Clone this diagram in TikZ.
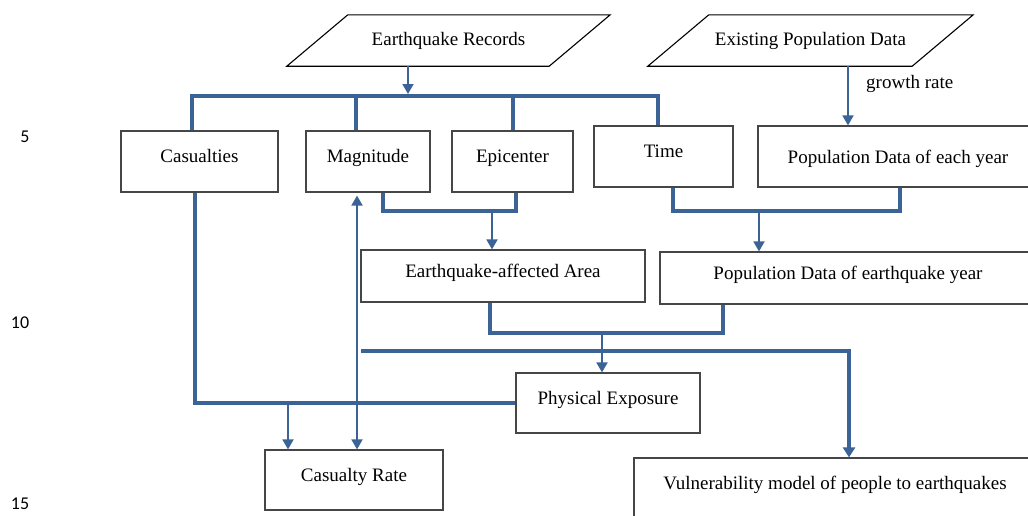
\documentclass[tikz,border=0pt]{standalone}
\usepackage{fontspec}
\setmainfont{Liberation Serif}
\newfontfamily\numfont{Carlito}
\usetikzlibrary{arrows.meta}
\definecolor{flowblue}{RGB}{59,99,150}
\definecolor{boxgray}{RGB}{70,70,70}

\begin{document}
\begin{tikzpicture}[x=1pt,y=-1pt,
    every node/.style={font=\fontsize{19}{22}\selectfont},
    box/.style={draw=boxgray,line width=1.2pt,inner sep=0pt,text height=14pt,text depth=12pt},
    data/.style={inner sep=0pt,minimum height=51pt},
    dataline/.style={draw=black,line width=1.1pt},
    bus/.style={draw=flowblue,line width=4pt},
    arr/.style={draw=flowblue,line width=1.8pt,-{Triangle[width=11pt,length=10pt]}}]
        \useasboundingbox (0,0) rectangle (1028,515);

        % line numbers
        \node[font=\numfont\fontsize{18}{20}\selectfont] (ln5) at (25,137) {5};
        \node[font=\numfont\fontsize{18}{20}\selectfont] (ln10) at (20,323) {10};
        \node[font=\numfont\fontsize{18}{20}\selectfont] (ln15) at (20,504) {15};

        % inputs (parallelograms)
        \node[data,minimum width=262pt] (er) at (448.5,40.5) {Earthquake Records};
        \node[data,minimum width=264pt] (epd) at (810.5,40.5) {Existing Population Data};
        \draw[dataline] ([xshift=-30.5pt]er.south west) -- ([xshift=30.5pt]er.north west)
            -- ([xshift=30.5pt]er.north east) -- ([xshift=-30.5pt]er.south east) -- cycle;
        \draw[dataline] ([xshift=-30.5pt]epd.south west) -- ([xshift=30.5pt]epd.north west)
            -- ([xshift=30.5pt]epd.north east) -- ([xshift=-30.5pt]epd.south east) -- cycle;

        % first row
        \node[box,minimum width=157pt,minimum height=61pt] (cas) at (199.5,161.5) {Casualties};
        \node[box,minimum width=124pt,minimum height=61pt] (mag) at (368,161.5) {Magnitude};
        \node[box,minimum width=121pt,minimum height=61pt] (epi) at (512.5,161.5) {Epicenter};
        \node[box,minimum width=139pt,minimum height=61pt] (time) at (663.5,156.5) {Time};
        \node[box,minimum width=280pt,minimum height=61pt,text depth=0pt] (pde) at (898,156.5) {Population Data of each year};

        % second row
        \node[box,minimum width=284pt,minimum height=52pt] (eaa) at (503,276) {Earthquake-affected Area};
        \node[box,minimum width=376pt,minimum height=52pt] (pdey) at (848,278) {Population Data of earthquake year};

        % results
        \node[box,minimum width=184pt,minimum height=60pt] (pe) at (608,403) {Physical Exposure};
        \node[box,minimum width=178pt,minimum height=60pt] (cr) at (354,480) {Casualty Rate};
        \node[box,minimum width=402pt,minimum height=60pt] (vul) at (835,488) {Vulnerability model of people to earthquakes};

        \coordinate (busL) at (192,96);
        \coordinate (busR) at (658,96);
        \coordinate (dmag) at (356,96);
        \coordinate (dER) at (408,96);
        \coordinate (grow) at (848,0);
        \coordinate (jA) at (492,211);
        \coordinate (jB) at (759,211);
        \coordinate (jC) at (602,333);
        \coordinate (jD) at (288,403);
        \coordinate (vmag) at (357,0);
        \coordinate (jE) at (361,351);
        \coordinate (jF) at (849,351);

        % records to the four boxes
        \draw[arr,shorten >=2pt] (er.south -| dER) -- (dER);
        \draw[bus] (cas.north -| busL) -- (busL) -- (busR) -- (time.north -| busR);
        \draw[bus] (mag.north -| dmag) -- (dmag);
        \draw[bus] (epi.north) -- (epi.north |- busL);

        \draw[arr] (epd.south -| grow) -- (pde.north -| grow)
            node[pos=0.3,anchor=west,xshift=14pt] (gr) {growth rate};

        \draw[bus] ([xshift=15pt]mag.south) |- (jA) -| ([xshift=3.5pt]epi.south);
        \draw[arr] (jA) -- (eaa.north -| jA);
        \draw[bus] ([xshift=9.5pt]time.south) |- (jB) -| ([xshift=2pt]pde.south);
        \draw[arr] (jB) -- (pdey.north -| jB);
        \draw[bus] ([xshift=-13pt]eaa.south) |- (jC) -| ([xshift=-125pt]pdey.south);
        \draw[arr] (jC) -- (pe.north -| jC);

        \draw[bus] ([xshift=-4.5pt]cas.south) |- (pe.west);
        \draw[arr] (jD) -- (cr.north -| jD);
        \draw[arr,{Triangle[width=11pt,length=10pt]}-{Triangle[width=11pt,length=10pt]},shorten <=3pt]
            (mag.south -| vmag) -- (cr.north -| vmag);

        \draw[bus,-{Triangle[width=12pt,length=10pt]}] (jE) -- (jF) -- (vul.north -| jF);
      \end{tikzpicture}
\end{document}
